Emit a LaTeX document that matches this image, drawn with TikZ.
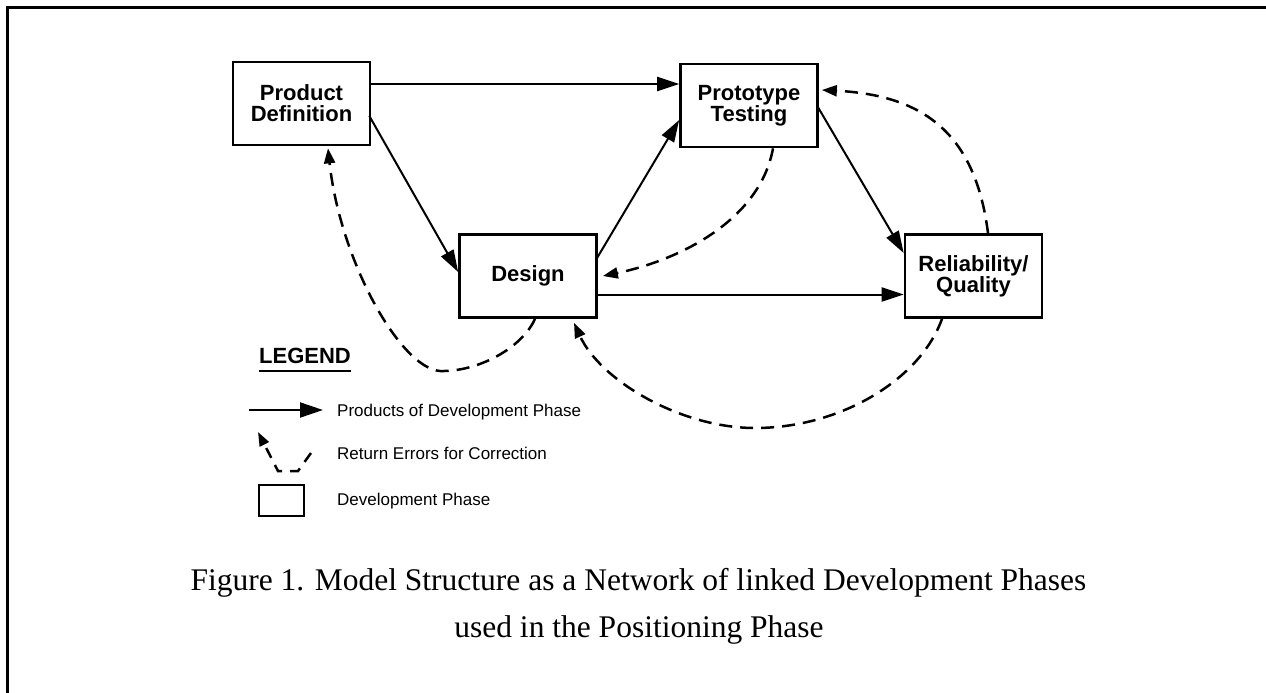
\documentclass[tikz,border=0pt]{standalone}
\usepackage{fontspec}
\setmainfont{Liberation Serif}
\setsansfont{Liberation Sans}
\usetikzlibrary{arrows.meta,calc}
\tikzset{
 phase/.style={draw, line width=2.7pt, rectangle, minimum width=137pt, minimum height=83pt, inner sep=0pt, align=center, font=\sffamily\bfseries\fontsize{22}{21}\selectfont},
 prod/.style={line width=2pt, -{Triangle[length=22pt,width=14pt]}},
 ret/.style={line width=2.5pt, dash pattern=on 13pt off 8pt, -{Triangle[length=15pt,width=11pt]}},
 legtext/.style={anchor=base west, inner sep=0pt, font=\sffamily\fontsize{17}{17}\selectfont},
 captext/.style={anchor=base, inner sep=0pt, font=\fontsize{31.5}{40}\selectfont},
}
\begin{document}
\begin{tikzpicture}[x=1pt,y=-1pt]
\useasboundingbox (0,0) rectangle (1266,693);
% frame
\draw[line width=3pt] (7.5,700) -- (7.5,7.5) -- (1275,7.5);
% phases
\node[phase] (pd) at (301.5,103.5) {Product\\Definition};
\node[phase] (pt) at (749,105.5) {Prototype\\Testing};
\node[phase] (de) at (528,276) {Design};
\node[phase] (rq) at (973.5,276) {Reliability/\\Quality};
% products
\draw[prod] ([yshift=19.5pt]pd.east) -- ([yshift=21.5pt]pt.west);
\draw[prod] ([yshift=-12.5pt,xshift=-2pt]pd.east) -- ([yshift=4pt]de.west);
\draw[prod] ([yshift=16pt,xshift=-2pt]de.east) -- ([yshift=-14.5pt]pt.west);
\draw[prod] ([yshift=-1.5pt,xshift=-1pt]pt.east) -- ([yshift=23pt]rq.west);
\draw[prod] ([yshift=-18.5pt]de.east) -- ([yshift=-18.5pt]rq.west);
% return errors
\draw[ret] ([xshift=7pt]de.south) .. controls (522,348) and (478,372) .. (440,371)
  .. controls (400,368) and (340,260) .. ([xshift=26.5pt,yshift=-2pt]pd.south);
\draw[ret] ([xshift=-31.5pt]rq.south) .. controls (920,380) and (840,428) .. (755,428)
  .. controls (680,428) and (600,380) .. ([xshift=46pt,yshift=-4pt]de.south);
\draw[ret] ([xshift=24pt]pt.south) .. controls (760,220) and (680,260) .. ([xshift=5pt]de.east);
\draw[ret] ([xshift=14.5pt]rq.north) .. controls (975,130) and (920,95) .. ([xshift=3pt,yshift=15.5pt]pt.east);
% legend
\node[anchor=base west, inner sep=0pt, font=\sffamily\bfseries\fontsize{22}{22}\selectfont] (leg) at (259,363) {LEGEND};
\draw[line width=1.5pt] ([yshift=-8pt]leg.base west) -- ([yshift=-8pt]leg.base east);
\coordinate (l1a) at (249,410);
\coordinate (l1b) at (323,410);
\draw[line width=2pt, -{Triangle[length=23pt,width=15pt]}] (l1a) -- (l1b);
\node[legtext] (t1) at (337,416.5) {Products of Development Phase};
\coordinate (l2a) at (311,453);
\coordinate (l2b) at (298,471);
\coordinate (l2c) at (278,471);
\coordinate (l2d) at (258,432);
\draw[line width=2.5pt, dash pattern=on 11pt off 8pt, -{Triangle[length=14pt,width=10pt]}] (l2a) -- (l2b) -- (l2c) -- (l2d);
\node[legtext] (t2) at (337,459) {Return Errors for Correction};
\node[draw, line width=2.7pt, minimum width=45pt, minimum height=31pt, inner sep=0pt] (l3) at (281.5,500.5) {};
\node[legtext] (t3) at (337,505) {Development Phase};
% caption
\node[captext] (c1) at (638.5,590) {Figure 1. Model Structure as a Network of linked Development Phases};
\node[captext] (c2) at (639,637.5) {used in the Positioning Phase};
\end{tikzpicture}
\end{document}
